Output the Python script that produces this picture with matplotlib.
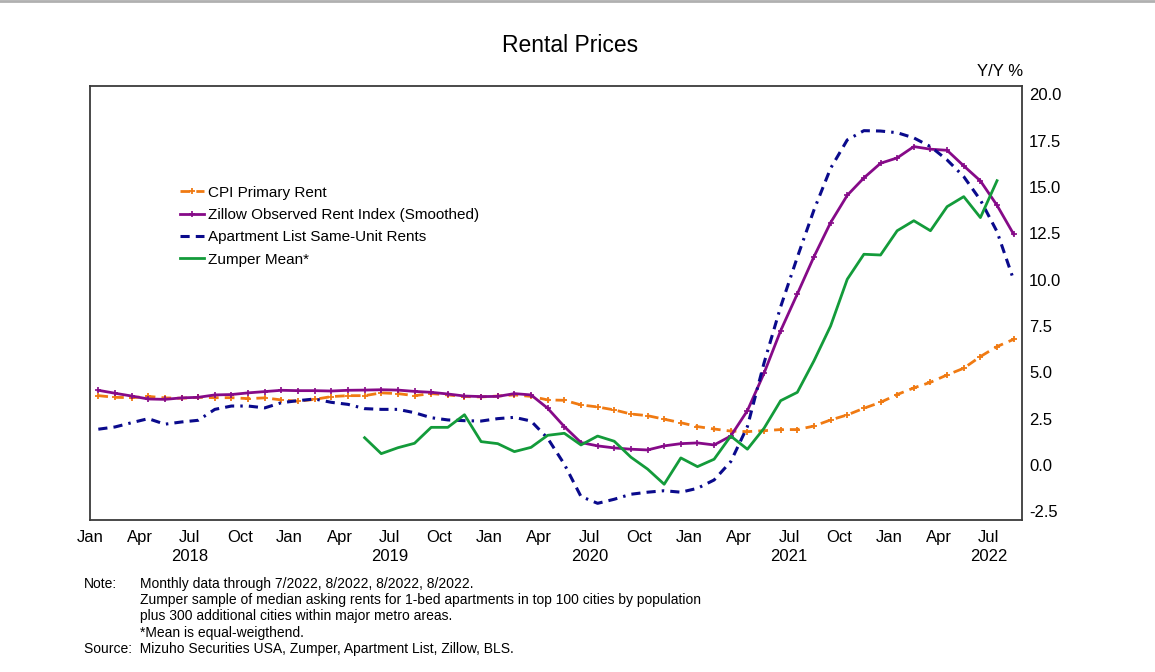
import numpy as np
import matplotlib
matplotlib.use('Agg')
import matplotlib.pyplot as plt
from matplotlib.lines import Line2D

plt.rcParams['font.family'] = ['Liberation Sans', 'DejaVu Sans']

# monthly data, Jan 2018 onwards (Y/Y %)
cpi_rent = [3.74, 3.65, 3.63, 3.70, 3.62, 3.60, 3.65, 3.63, 3.63, 3.58, 3.62, 3.51,
            3.44, 3.54, 3.69, 3.74, 3.74, 3.89, 3.85, 3.74, 3.85, 3.78, 3.69, 3.67,
            3.72, 3.78, 3.70, 3.51, 3.49, 3.24, 3.13, 2.97, 2.75, 2.66, 2.47, 2.28,
            2.07, 1.94, 1.83, 1.80, 1.85, 1.91, 1.91, 2.10, 2.43, 2.70, 3.06, 3.38,
            3.80, 4.16, 4.46, 4.86, 5.22, 5.85, 6.39, 6.78]
zillow = [4.03, 3.87, 3.72, 3.56, 3.54, 3.62, 3.65, 3.78, 3.80, 3.89, 3.96, 4.03,
          4.01, 4.01, 3.99, 4.03, 4.04, 4.06, 4.04, 3.97, 3.92, 3.83, 3.72, 3.69,
          3.70, 3.85, 3.78, 3.06, 2.07, 1.21, 1.03, 0.92, 0.85, 0.81, 1.03, 1.15,
          1.19, 1.08, 1.56, 2.93, 4.95, 7.25, 9.23, 11.24, 13.08, 14.55, 15.49, 16.28,
          16.57, 17.18, 17.04, 16.98, 16.14, 15.33, 14.01, 12.45]
apt_list = [1.93, 2.05, 2.28, 2.50, 2.20, 2.32, 2.41, 3.00, 3.18, 3.18, 3.08, 3.36,
            3.47, 3.56, 3.38, 3.27, 3.04, 3.00, 3.00, 2.82, 2.55, 2.43, 2.39, 2.37,
            2.50, 2.57, 2.37, 1.44, 0.04, -1.70, -2.07, -1.85, -1.58, -1.47, -1.39, -1.47,
            -1.26, -0.81, 0.18, 2.07, 5.50, 8.54, 11.21, 13.76, 16.01, 17.54, 18.04, 18.02,
            17.93, 17.65, 17.18, 16.46, 15.56, 14.30, 12.59, 9.98]
zumper_start = 16  # May 2019
zumper = [1.47, 0.61, 0.93, 1.17, 2.03, 2.03, 2.71, 1.26,
          1.15, 0.72, 0.95, 1.60, 1.71, 1.08, 1.56, 1.28, 0.42, -0.22, -1.04, 0.38,
          -0.09, 0.31, 1.56, 0.85, 1.98, 3.47, 3.92, 5.62, 7.50, 10.02, 11.37, 11.33,
          12.64, 13.18, 12.64, 13.94, 14.48, 13.35, 15.34]

month_names = ['Jan', 'Apr', 'Jul', 'Oct']
years = [2018, 2019, 2020, 2021, 2022]

fig = plt.figure(figsize=(11.55, 6.72), dpi=100)
ax = fig.add_axes([90/1155, 1-520/672, (1022-90)/1155, (520-86)/672])

x = np.arange(len(cpi_rent)) + 0.5  # mid-month
xz = np.arange(len(zumper)) + zumper_start + 0.5

ax.plot(x, cpi_rent, color='#F07A12', lw=2.0, ls=(0, (3.5, 2.2)), marker='+', ms=4, mew=1.3,
        label='CPI Primary Rent')
ax.plot(x, zillow, color='#860A88', lw=2.0, marker='+', ms=4, mew=1.2,
        label='Zillow Observed Rent Index (Smoothed)')
ax.plot(x, apt_list, color='#0A0A8C', lw=2.2, ls=(0, (3, 2, 3, 2, 0.8, 2)),
        label='Apartment List Same-Unit Rents')
ax.plot(xz, zumper, color='#139B3A', lw=2.0, label='Zumper Mean*')

ax.set_xlim(0, 56)
ax.set_ylim(-2.97, 20.45)
ticks = np.arange(0, 55, 3)
labels = []
for t in ticks:
    m = month_names[(t % 12)//3]
    if m == 'Jul':
        m = m + '\n' + str(years[t // 12])
    labels.append(m)
ax.set_xticks(ticks)
ax.set_xticklabels(labels, fontsize=12)
for lab in ax.get_xticklabels():
    lab.set_linespacing(1.35)
ax.tick_params(axis='x', length=0, pad=7)

ax.yaxis.tick_right()
ax.set_yticks(np.arange(-2.5, 20.1, 2.5))
ax.set_yticklabels(['%.1f' % v for v in np.arange(-2.5, 20.1, 2.5)], fontsize=12)
ax.tick_params(axis='y', length=0, pad=5)
for s in ax.spines.values():
    s.set_color('#3a3a3a')
    s.set_linewidth(1.3)

leg = ax.legend(loc='upper left', bbox_to_anchor=(172/1155, 1-178/672), bbox_transform=fig.transFigure,
                frameon=False, fontsize=11, handlelength=1.6, handletextpad=0.25,
                labelspacing=0.55, borderpad=0, numpoints=1)

fig.text(570/1155, 1-46/672, 'Rental Prices', ha='center', va='center', fontsize=16.5)
fig.text(1023/1155, 1-72/672, 'Y/Y %', ha='right', va='center', fontsize=12)

notes = ['Monthly data through 7/2022, 8/2022, 8/2022, 8/2022.',
         'Zumper sample of median asking rents for 1-bed apartments in top 100 cities by population',
         'plus 300 additional cities within major metro areas.',
         '*Mean is equal-weigthend.']
fig.text(84/1155, 1-584/672, 'Note:', ha='left', va='center', fontsize=10)
for i, n in enumerate(notes):
    fig.text(140/1155, 1-(584+16.2*i)/672, n, ha='left', va='center', fontsize=10)
fig.text(84/1155, 1-649/672, 'Source:  Mizuho Securities USA, Zumper, Apartment List, Zillow, BLS.',
         ha='left', va='center', fontsize=10)

fig.add_artist(Line2D([0, 1], [0.998, 0.998], transform=fig.transFigure, color='#b0b0b0', lw=2))

fig.savefig('out.png', dpi=100)
